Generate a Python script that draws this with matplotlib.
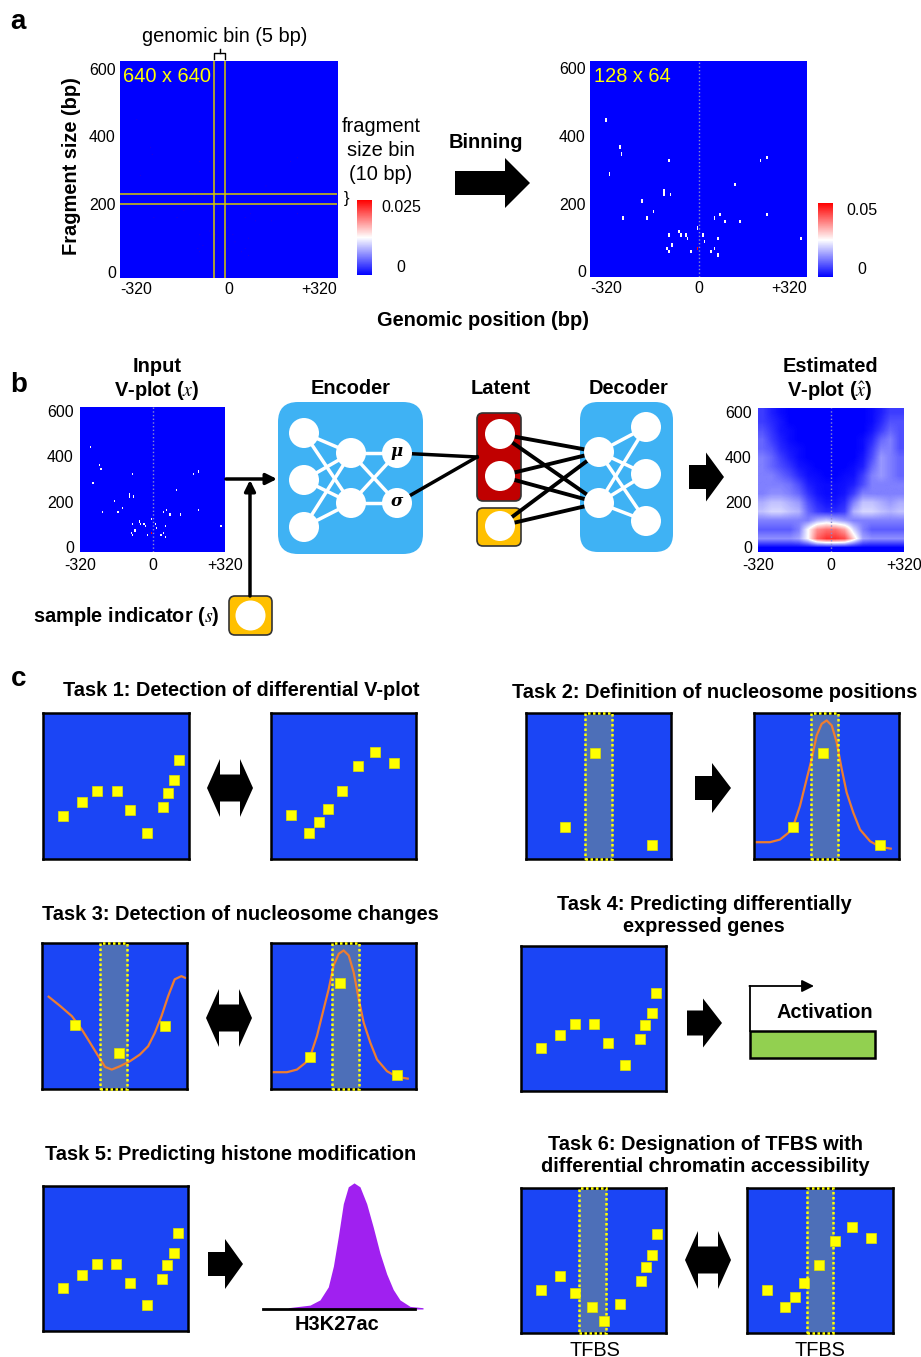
import numpy as np
import matplotlib.pyplot as plt
from matplotlib.colors import LinearSegmentedColormap
from matplotlib.patches import Circle, FancyBboxPatch, Polygon, Rectangle
from matplotlib.transforms import ScaledTranslation

plt.rcParams['font.family'] = ['Liberation Sans', 'DejaVu Sans']
plt.rcParams['mathtext.fontset'] = 'stix'

W, H = 921, 1357

frag_pos = [-271, -231, -226, -261, -86, -102, -102, -82, -170, -133, -221, -153,
            -86, -57, -51, -40, -35, -92, -87, -77, -25, -5, -5, -4, 11, 17,
            36, 47, 57, 57, 47, 62, 77, 124, 108, 180, 200, 200, 303]
frag_size = [467, 385, 364, 302, 343, 251, 241, 240, 220, 199, 178, 178,
             127, 138, 127, 127, 117, 87, 77, 96, 77, 87, 87, 148, 127, 106,
             77, 87, 66, 117, 178, 189, 168, 168, 271, 343, 354, 189, 117]

pos_ticks = [-320, 0, 320]
pos_labels = ['-320', '0', '+320']
size_ticks = [0, 200, 400, 600]

# estimated V-plot, coarse 40 bp x 40 bp grid (fraction of 0.05), rows = size 0 -> 640
est_vplot = np.array([
    [0.00] * 16,
    [0.28, 0.28, 0.28, 0.28, 0.32, 0.50, 0.80, 0.90, 0.90, 0.85, 0.58, 0.32, 0.28, 0.28, 0.28, 0.28],
    [0.18, 0.18, 0.18, 0.18, 0.25, 0.50, 0.72, 0.78, 0.78, 0.68, 0.42, 0.25, 0.18, 0.18, 0.18, 0.18],
    [0.25, 0.25, 0.25, 0.25, 0.25, 0.25, 0.35, 0.40, 0.35, 0.30, 0.25, 0.25, 0.25, 0.25, 0.25, 0.25],
    [0.38, 0.42, 0.42, 0.38, 0.35, 0.20, 0.12, 0.08, 0.08, 0.12, 0.35, 0.42, 0.42, 0.38, 0.35, 0.38],
    [0.34, 0.38, 0.38, 0.34, 0.30, 0.16, 0.08, 0.04, 0.04, 0.08, 0.25, 0.38, 0.38, 0.34, 0.30, 0.34],
    [0.25, 0.28, 0.28, 0.25, 0.20, 0.10, 0.04, 0.02, 0.02, 0.04, 0.12, 0.25, 0.25, 0.25, 0.25, 0.25],
    [0.25, 0.25, 0.25, 0.22, 0.15, 0.06, 0.03, 0.02, 0.02, 0.03, 0.06, 0.15, 0.25, 0.25, 0.25, 0.25],
    [0.25, 0.25, 0.20, 0.15, 0.08, 0.03, 0.02, 0.00, 0.00, 0.02, 0.03, 0.12, 0.25, 0.30, 0.25, 0.20],
    [0.25, 0.20, 0.15, 0.10, 0.04, 0.02, 0.00, 0.00, 0.00, 0.00, 0.02, 0.06, 0.20, 0.30, 0.25, 0.20],
    [0.25, 0.20, 0.12, 0.06, 0.02, 0.00, 0.00, 0.00, 0.00, 0.00, 0.00, 0.04, 0.15, 0.30, 0.25, 0.20],
    [0.20, 0.16, 0.08, 0.04, 0.02, 0.00, 0.00, 0.00, 0.00, 0.00, 0.00, 0.02, 0.12, 0.25, 0.25, 0.16],
    [0.20, 0.12, 0.06, 0.02, 0.00, 0.00, 0.00, 0.00, 0.00, 0.00, 0.00, 0.02, 0.08, 0.20, 0.25, 0.16],
    [0.16, 0.10, 0.04, 0.02, 0.00, 0.00, 0.00, 0.00, 0.00, 0.00, 0.00, 0.00, 0.04, 0.12, 0.20, 0.16],
    [0.12, 0.08, 0.04, 0.00, 0.00, 0.00, 0.00, 0.00, 0.00, 0.00, 0.00, 0.00, 0.02, 0.08, 0.16, 0.16],
    [0.12, 0.06, 0.02, 0.00, 0.00, 0.00, 0.00, 0.00, 0.00, 0.00, 0.00, 0.00, 0.02, 0.06, 0.12, 0.12],
])

# schematic V-plots of panel c (box coords 0-100)
dots_a_x = [13.9, 26.7, 37.2, 50.5, 59.8, 71.5, 82.2, 85.4, 90.0, 93.2]
dots_a_y = [29.7, 38.8, 46.3, 46.3, 33.3, 17.8, 35.8, 45.2, 53.9, 67.8]
dots_b_x = [13.8, 26.0, 32.9, 39.3, 49.2, 60.0, 71.7, 84.8]
dots_b_y = [29.9, 17.9, 25.1, 34.5, 46.9, 63.4, 73.3, 65.5]
nuc_x = [27.0, 47.6, 86.9]
nuc_y = [21.8, 72.9, 9.9]
open_x = [23.1, 53.3, 85.1]
open_y = [43.9, 24.5, 43.2]
tfbs_x = [14.0, 26.7, 37.2, 49.0, 57.0, 68.5, 82.5, 86.0, 90.3, 93.8]
tfbs_y = [29.7, 39.1, 27.8, 17.7, 8.0, 20.0, 35.9, 45.5, 54.0, 68.0]

peak_curve_x = [1.4, 11.0, 17.9, 23.7, 27.1, 31.7, 36.3, 39.8, 43.2, 46.7, 50.1,
                53.6, 57.0, 60.5, 63.9, 68.5, 73.1, 80.0, 86.9, 94.3]
peak_curve_y = [11.5, 11.5, 13.3, 17.9, 22.5, 36.3, 54.7, 68.5, 84.6, 92.6, 94.9,
                91.5, 80.0, 61.6, 45.5, 31.7, 20.2, 12.2, 8.3, 7.1]
dip_curve_x = [4.6, 12.6, 20.6, 27.5, 33.2, 38.9, 43.5, 48.1, 53.8, 60.6, 67.5,
               73.2, 77.8, 82.4, 87.0, 91.5, 96.1, 98.6]
dip_curve_y = [63.2, 56.8, 49.9, 40.7, 31.6, 22.4, 15.1, 13.3, 15.6, 19.0, 23.6,
               29.3, 38.4, 49.9, 63.6, 75.1, 77.3, 76.2]

h3k27ac_x = [15.8, 29.4, 35.6, 40.8, 44.0, 47.1, 50.2, 53.3, 56.9, 60.6, 64.8,
             68.9, 73.1, 77.3, 81.4, 85.6, 91.9, 100.0]
h3k27ac_y = [0.01, 0.03, 0.07, 0.17, 0.33, 0.56, 0.81, 0.94, 0.97, 0.94, 0.81,
             0.63, 0.43, 0.27, 0.15, 0.07, 0.02, 0.01]

vplot_cmap = LinearSegmentedColormap.from_list('vplot', ['#0000ff', '#ffffff', '#ff0000'])
BOX_BLUE = '#1b45f5'
BAND = '#4d6fb8'
ORANGE = '#ed7d31'
NET_BLUE = '#3fb2f4'
FS = 14.4

fig = plt.figure(figsize=(W / 100, H / 100), dpi=100)


def px_axes(x0, y0, x1, y1):
    return fig.add_axes([x0 / W, 1 - y1 / H, (x1 - x0) / W, (y1 - y0) / H])


def vplot(box, img, vmax, edge_ha, pad, lift, interp='nearest', midline=True):
    ax = px_axes(*box)
    ax.imshow(img, origin='lower', extent=[-320, 320, 0, 640], aspect='auto',
              cmap=vplot_cmap, vmin=0, vmax=vmax, interpolation=interp)
    if midline:
        ax.axvline(0, color='#8a8ad0', ls=':', lw=1)
    ax.set_xlim(-320, 320)
    ax.set_ylim(0, 640)
    ax.set_xticks(pos_ticks, pos_labels)
    ax.set_yticks(size_ticks)
    ax.tick_params(length=0, labelsize=11.5, pad=pad)
    if edge_ha:
        labs = ax.get_xticklabels()
        labs[0].set_ha('left')
        labs[-1].set_ha('right')
    shift = ScaledTranslation(0, lift / 100, fig.dpi_scale_trans)
    for lab in ax.get_yticklabels():
        lab.set_transform(lab.get_transform() + shift)
    for s in ax.spines.values():
        s.set_visible(False)
    return ax


def add_cbar(im_ax, box, vmax, label):
    cax = px_axes(*box)
    cb = fig.colorbar(im_ax.images[0], cax=cax)
    cb.outline.set_visible(False)
    cb.set_ticks([0, vmax], labels=['0', label])
    cax.tick_params(length=0, labelsize=11.5, pad=21)
    for lab, va in zip(cax.get_yticklabels(), ['bottom', 'top']):
        lab.set_ha('center')
        lab.set_va(va)


n_frag = len(frag_pos)
fine, _, _ = np.histogram2d(frag_size, frag_pos, bins=[640, 640], range=[[0, 640], [-320, 320]])
coarse, _, _ = np.histogram2d(frag_size, frag_pos, bins=[64, 128], range=[[0, 640], [-320, 320]])

# panel a
ax_fine = vplot((120, 61, 337, 278), fine / n_frag, 0.025, True, 3, 6,
                interp='antialiased', midline=False)
for xv in (-43, -10):
    ax_fine.axvline(xv, color='#d8c800', lw=1.1)
for yv in (218, 248):
    ax_fine.axhline(yv, color='#d8c800', lw=1.1)
ax_fine.text(0.015, 0.93, '640 x 640', transform=ax_fine.transAxes, color='#ffff00',
             fontsize=FS, va='center')
add_cbar(ax_fine, (357, 200, 372, 275), 0.025, '0.025')

ax_coarse = vplot((590, 61, 807, 277), coarse / n_frag, 0.05, True, 3, 6)
ax_coarse.text(0.02, 0.93, '128 x 64', transform=ax_coarse.transAxes, color='#ffff00',
               fontsize=FS, va='center')
add_cbar(ax_coarse, (818, 203, 833, 277), 0.05, '0.05')

# panel b heatmaps
vplot((80, 407, 225, 552), coarse / n_frag, 0.05, False, 4.5, 5)
vplot((758, 408, 904, 552), est_vplot * 0.05, 0.05, False, 4.5, 5, interp='bilinear')


# panel c boxes
def task_box(box, xs, ys, band=None, curve=None):
    ax = px_axes(*box)
    ax.set_facecolor(BOX_BLUE)
    ax.set_xlim(0, 100)
    ax.set_ylim(0, 100)
    ax.set_xticks([])
    ax.set_yticks([])
    for s in ax.spines.values():
        s.set_linewidth(1.8)
    if band is not None:
        ax.axvspan(band[0], band[1], color=BAND, zorder=1)
        ax.add_patch(Rectangle((band[0], 0), band[1] - band[0], 100, fill=False,
                               ec='#ffff00', ls=(0, (1, 1)), lw=1.8, zorder=4, clip_on=False))
    if curve is not None:
        ax.plot(curve[0], curve[1], color=ORANGE, lw=1.6, zorder=2)
    ax.plot(xs, ys, 's', ms=6.5, mfc='#ffff00', mec='#e0e000', mew=0.5, zorder=3)
    return ax


task_box((43, 713, 189, 859), dots_a_x, dots_a_y)
task_box((271, 713, 416, 859), dots_b_x, dots_b_y)
task_box((526, 713, 671, 859), nuc_x, nuc_y, band=(40.5, 59.3))
task_box((754, 713, 899, 859), nuc_x, nuc_y, band=(39.1, 57.7), curve=(peak_curve_x, peak_curve_y))
task_box((42, 943, 187, 1089), open_x, open_y, band=(40.0, 58.8), curve=(dip_curve_x, dip_curve_y))
task_box((271, 943, 416, 1089), nuc_x, nuc_y, band=(42.1, 60.9), curve=(peak_curve_x, peak_curve_y))
task_box((521, 946, 666, 1091), dots_a_x, dots_a_y)
task_box((43, 1186, 188, 1331), dots_a_x, dots_a_y)
task_box((521, 1188, 666, 1333), tfbs_x, tfbs_y, band=(39.8, 58.9))
task_box((747, 1188, 893, 1333), dots_b_x, dots_b_y, band=(40.8, 59.2))

ax_peak = px_axes(263, 1179, 423, 1309)
ax_peak.fill_between(h3k27ac_x, h3k27ac_y, color='#a020f0', lw=0)
ax_peak.plot([0, 95], [0, 0], color='k', lw=2, clip_on=False)
ax_peak.set_xlim(0, 100)
ax_peak.set_ylim(0, 1)
ax_peak.axis('off')

# overlay for schematic elements and text (pixel coordinates)
ov = fig.add_axes([0, 0, 1, 1], zorder=10)
ov.set_xlim(0, W)
ov.set_ylim(H, 0)
ov.axis('off')


def txt(x, y, s, size=FS, bold=True, **kw):
    ov.text(x, y, s, fontsize=size, fontweight='bold' if bold else 'normal',
            ha=kw.pop('ha', 'center'), va=kw.pop('va', 'center'), **kw)


def fat_arrow(x0, xh, x1, yc, bh, hh):
    pts = [(x0, yc - bh / 2), (xh, yc - bh / 2), (xh, yc - hh / 2), (x1, yc),
           (xh, yc + hh / 2), (xh, yc + bh / 2), (x0, yc + bh / 2)]
    ov.add_patch(Polygon(pts, closed=True, fc='k', ec='none'))


def double_arrow(x0, x1, yc, hw=13, bh=27, hh=58):
    pts = [(x0, yc), (x0 + hw, yc - hh / 2), (x0 + hw, yc - bh / 2), (x1 - hw, yc - bh / 2),
           (x1 - hw, yc - hh / 2), (x1, yc), (x1 - hw, yc + hh / 2), (x1 - hw, yc + bh / 2),
           (x0 + hw, yc + bh / 2), (x0 + hw, yc + hh / 2)]
    ov.add_patch(Polygon(pts, closed=True, fc='k', ec='none'))


def line_arrow(x0, y0, x1, y1, lw=2.5, ms=16):
    ov.annotate('', xy=(x1, y1), xytext=(x0, y0),
                arrowprops=dict(arrowstyle='-|>', lw=lw, color='k', mutation_scale=ms,
                                shrinkA=0, shrinkB=0))


# panel letters
txt(18, 22, 'a', size=20)
txt(19, 385, 'b', size=20)
txt(19, 679, 'c', size=20)

# panel a annotations
txt(225, 36, 'genomic bin (5 bp)', bold=False)
ov.plot([214, 214, 225, 225], [59, 53, 53, 59], color='k', lw=1)
ov.plot([219.5, 219.5], [53, 49], color='k', lw=1)
txt(381, 126, 'fragment', bold=False)
txt(381, 150, 'size bin', bold=False)
txt(381, 174, '(10 bp)', bold=False)
txt(346, 198, '}', size=12, bold=False)
txt(71, 166, 'Fragment size (bp)', rotation=90)
txt(483, 321, 'Genomic position (bp)')
txt(486, 143, 'Binning')
fat_arrow(455, 505, 530, 183, 24, 50)

# panel b titles
txt(157, 366, 'Input')
txt(157, 390, r'V-plot ($x$)')
txt(351, 388, 'Encoder')
txt(501, 388, 'Latent')
txt(628, 388, 'Decoder')
txt(830, 366, 'Estimated')
txt(830, 390, r'V-plot ($\hat{x}$)')
txt(126, 617, r'sample indicator ($s$)')

# network boxes
ov.add_patch(FancyBboxPatch((278, 402), 145, 152, boxstyle='round,pad=0,rounding_size=20',
                            fc=NET_BLUE, ec='none', zorder=1))
ov.add_patch(FancyBboxPatch((580, 402), 93, 150, boxstyle='round,pad=0,rounding_size=18',
                            fc=NET_BLUE, ec='none', zorder=1))
ov.add_patch(FancyBboxPatch((477, 413), 44, 88, boxstyle='round,pad=0,rounding_size=6',
                            fc='#c00000', ec='#333333', lw=1.2, zorder=1))
ov.add_patch(FancyBboxPatch((477, 508), 44, 38, boxstyle='round,pad=0,rounding_size=6',
                            fc='#ffc000', ec='#333333', lw=1.2, zorder=1))
ov.add_patch(FancyBboxPatch((229, 596), 43, 39, boxstyle='round,pad=0,rounding_size=6',
                            fc='#ffc000', ec='#333333', lw=1.2, zorder=1))

enc = [[(304, 433), (304, 480), (304, 527)], [(351, 453), (351, 503)], [(397, 453), (397, 503)]]
dec = [[(599, 452), (599, 503)], [(646, 427), (646, 474), (646, 521)]]
lat = [(500, 434), (500, 476), (500, 526)]

for layers in (enc, dec):
    for a, b in zip(layers[:-1], layers[1:]):
        for p in a:
            for q in b:
                ov.plot([p[0], q[0]], [p[1], q[1]], color='white', lw=2.5, zorder=2)
for p in lat:
    for q in dec[0]:
        ov.plot([p[0], q[0]], [p[1], q[1]], color='k', lw=2.8, zorder=2)
for p in enc[2]:
    ov.plot([p[0], 477], [p[1], 457], color='k', lw=2.5, zorder=2)

for layer in enc + dec:
    for p in layer:
        ov.add_patch(Circle(p, 15, fc='white', ec='none', zorder=3))
for p in lat + [(250.5, 615.5)]:
    ov.add_patch(Circle(p, 15, fc='white', ec='none', zorder=3))
ov.text(397, 451, 'μ', fontsize=12, family='DejaVu Serif', style='italic', weight='bold',
        ha='center', va='center', zorder=4)
ov.text(397, 502, 'σ', fontsize=12, family='DejaVu Serif', style='italic', weight='bold',
        ha='center', va='center', zorder=4)

line_arrow(226, 479, 277, 479)
line_arrow(250, 596, 250, 480)
fat_arrow(689, 706, 724, 477, 24, 49)

# panel c titles and arrows
txt(241, 690, 'Task 1: Detection of differential V-plot')
txt(715, 692, 'Task 2: Definition of nucleosome positions')
txt(240, 914, 'Task 3: Detection of nucleosome changes')
txt(704, 905, 'Task 4: Predicting differentially')
txt(704, 927, 'expressed genes')
txt(231, 1154, 'Task 5: Predicting histone modification')
txt(705, 1144, 'Task 6: Designation of TFBS with')
txt(705, 1167, 'differential chromatin accessibility')
txt(595, 1350, 'TFBS', bold=False)
txt(820, 1350, 'TFBS', bold=False)
txt(337, 1324, 'H3K27ac')

double_arrow(207, 253, 788)
double_arrow(206, 252, 1018)
double_arrow(685, 731, 1260)
fat_arrow(695, 712, 731, 788, 24, 50)
fat_arrow(687, 703, 722, 1023, 25, 49)
fat_arrow(208, 225, 243, 1264, 24, 50)

# activation sketch
ov.add_patch(Rectangle((750, 1031), 125, 27, fc='#92d050', ec='k', lw=1.8))
ov.plot([750, 750], [1031, 986], color='k', lw=1.3)
line_arrow(749.4, 986, 814, 986, lw=1.3, ms=18)
txt(776, 1013, 'Activation', ha='left')

fig.savefig('out.png', dpi=100)
